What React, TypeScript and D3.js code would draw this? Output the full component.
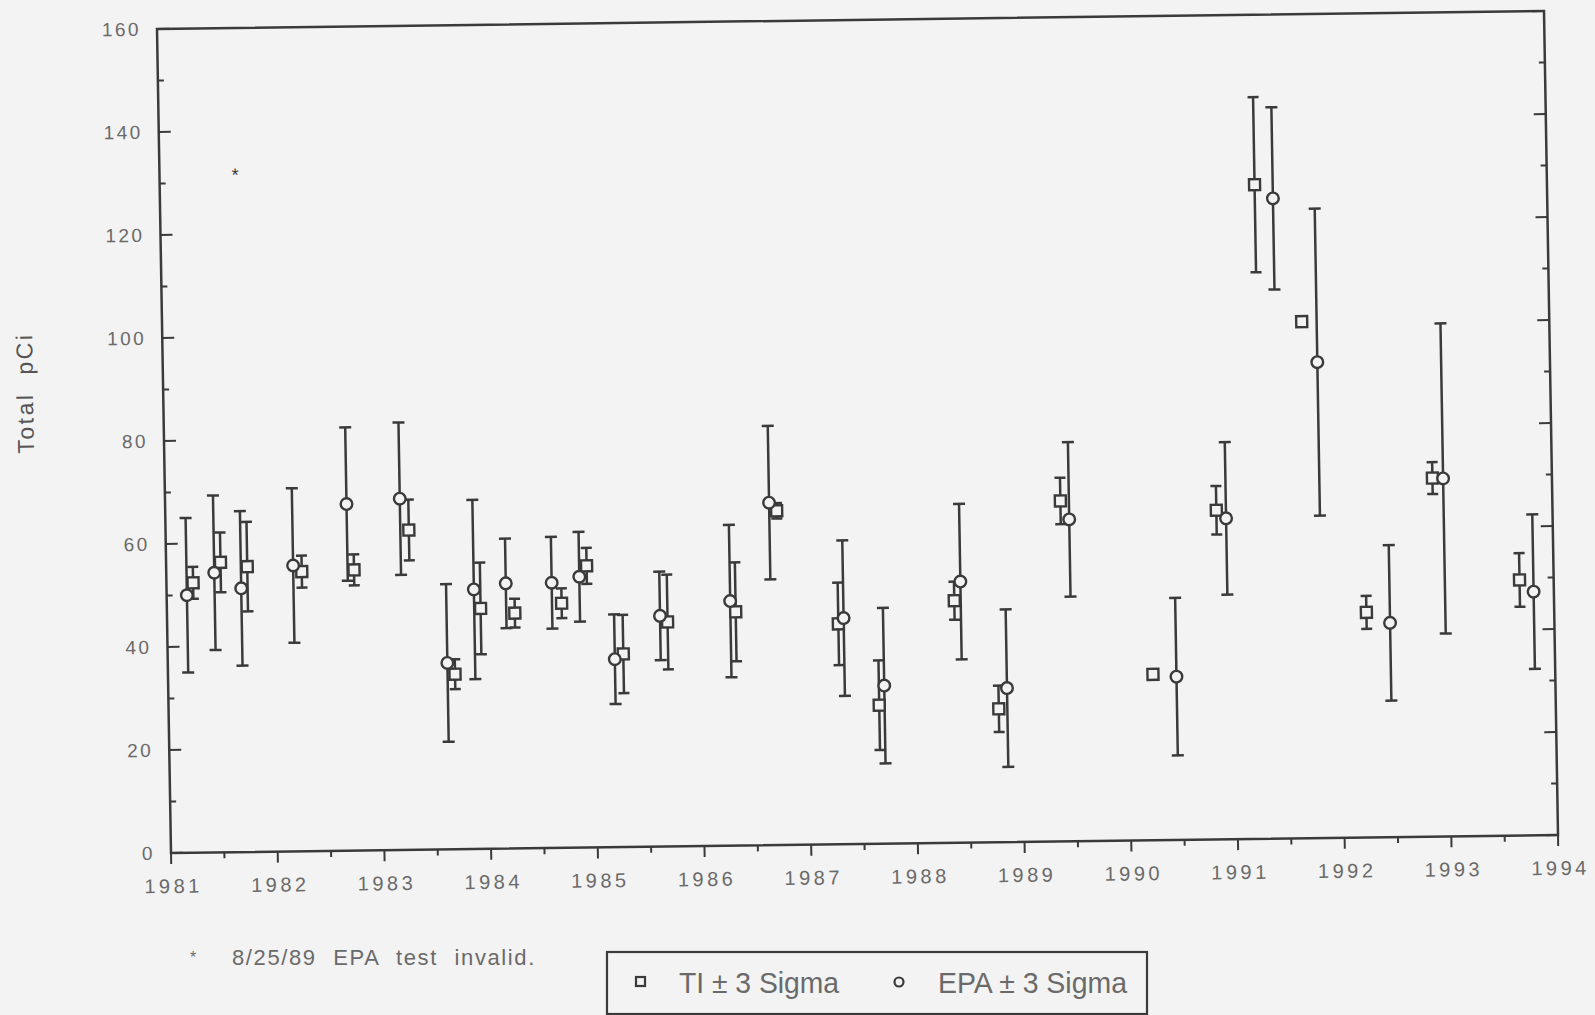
import * as d3 from 'd3';

const WIDTH = 1595, HEIGHT = 1015;
const PW = 1387, PH = 824;

// TI measurements (year, value, 3 sigma)
const tiYear = [1981.25, 1981.51, 1981.76, 1982.27, 1982.76, 1983.28, 1983.69, 1983.94, 1984.26, 1984.70, 1984.94, 1985.27, 1985.69, 1986.33, 1986.73, 1987.29, 1987.66, 1988.38, 1988.78, 1989.39, 1990.23, 1990.85, 1991.26, 1991.68, 1992.24, 1992.88, 1993.68];
const tiValue = [52.4, 56.3, 55.4, 54.3, 54.5, 62.1, 34.0, 46.7, 45.7, 47.5, 54.7, 37.5, 43.6, 45.4, 64.9, 42.8, 26.9, 47.0, 25.9, 66.1, 32.2, 63.9, 127.0, 100.3, 43.7, 69.6, 49.6];
const tiSigma = [3.1, 5.8, 8.7, 3.1, 3.0, 5.9, 2.9, 8.9, 2.8, 2.9, 3.5, 7.6, 9.2, 9.6, 1.5, 8.0, 8.7, 3.7, 4.5, 4.5, 1.0, 4.7, 17.0, 0, 3.2, 3.1, 5.2];

// EPA measurements (year, value, 3 sigma)
const epaYear = [1981.19, 1981.45, 1981.70, 1982.19, 1982.70, 1983.20, 1983.62, 1983.88, 1984.18, 1984.61, 1984.87, 1985.19, 1985.62, 1986.28, 1986.66, 1987.34, 1987.71, 1988.44, 1988.86, 1989.47, 1990.45, 1990.94, 1991.43, 1991.82, 1992.46, 1992.98, 1993.81];
const epaValue = [50.0, 54.3, 51.2, 55.5, 67.3, 68.2, 36.2, 50.4, 51.5, 51.5, 52.6, 36.5, 44.8, 47.5, 66.5, 43.9, 30.7, 50.7, 29.9, 62.5, 31.7, 62.3, 124.3, 92.4, 41.6, 69.5, 47.3];
const epaSigma = [15.0, 15.0, 15.0, 15.0, 14.9, 14.8, 15.3, 17.4, 8.7, 8.9, 8.7, 8.7, 8.6, 14.8, 14.9, 15.1, 15.1, 15.1, 15.3, 15.0, 15.3, 14.8, 17.7, 29.8, 15.1, 30.1, 15.0];

const yearLabels = ['1981', '1982', '1983', '1984', '1985', '1986', '1987', '1988', '1989', '1990', '1991', '1992', '1993', '1994'];
const valueLabels = ['0', '20', '40', '60', '80', '100', '120', '140', '160'];

const INK = '#3a3a3a';
const TEXT = '#6a6a6a';
const BG = '#f3f3f3';
const SANS = 'Liberation Sans, Arial, sans-serif';
const NARROW = 'Liberation Sans Narrow, Arial Narrow, sans-serif';

const x = d3.scaleLinear().domain([1981, 1994]).range([0, PW]);
const y = d3.scaleLinear().domain([0, 160]).range([PH, 0]);

const tiPoints = tiYear.map((t, i) => ({ t, v: tiValue[i], s: tiSigma[i] }));
const epaPoints = epaYear.map((t, i) => ({ t, v: epaValue[i], s: epaSigma[i] }));

const ErrorBar = ({ d, cap }) => {
    if (!d.s) return null;
    const cx = x(d.t);
    const y0 = y(d.v - d.s), y1 = y(d.v + d.s);
    return (
        <g stroke={INK} strokeWidth={2.5}>
            <line x1={cx} x2={cx} y1={y0} y2={y1} />
            <line x1={cx - cap} x2={cx + cap} y1={y0} y2={y0} />
            <line x1={cx - cap} x2={cx + cap} y1={y1} y2={y1} />
        </g>
    );
};

const App = () => {
    const halfYears = d3.range(1981, 1994.01, 0.5);
    const tens = y.ticks(16);
    return (
        <svg width={WIDTH} height={HEIGHT} style={{ position: 'absolute', left: 0, top: 0, display: 'block' }}>
            <rect width={WIDTH} height={HEIGHT} fill={BG} />
            <text transform="translate(33,393) rotate(-90.9)" textAnchor="middle" fontFamily={SANS}
                fontSize={23} letterSpacing={2.5} wordSpacing={9} fill="#555">Total pCi</text>

            <g transform="matrix(1,-0.013,0.017,1,157,29)">
                <rect x={0} y={0} width={PW} height={PH} fill="none" stroke={INK} strokeWidth={2.5} />

                {tens.map(v => (
                    <g key={'yt' + v} stroke={INK} strokeWidth={2}>
                        <line x1={0} x2={v % 20 === 0 ? 12 : 6} y1={y(v)} y2={y(v)} />
                        <line x1={PW} x2={PW - (v % 20 === 0 ? 12 : 6)} y1={y(v)} y2={y(v)} />
                    </g>
                ))}
                {halfYears.map(t => (
                    <line key={'xt' + t} x1={x(t)} x2={x(t)} y1={PH} y2={PH + (t % 1 === 0 ? 11 : 6)} stroke={INK} strokeWidth={2} />
                ))}

                {valueLabels.map((l, i) => (
                    <text key={'yl' + l} x={-16} y={y(i * 20)} dy="0.35em" textAnchor="end" fontFamily={SANS}
                        fontSize={19} letterSpacing={2.5} fill={TEXT}>{l}</text>
                ))}
                {yearLabels.map((l, i) => (
                    <text key={'xl' + l} x={x(1981 + i) + 2} y={PH + 40} textAnchor="middle" fontFamily={SANS}
                        fontSize={20} letterSpacing={3.5} fill={TEXT}>{l}</text>
                ))}

                {epaPoints.map((d, i) => <ErrorBar key={'eb' + i} d={d} cap={6} />)}
                {tiPoints.map((d, i) => <ErrorBar key={'tb' + i} d={d} cap={5.5} />)}

                {tiPoints.map((d, i) => (
                    <rect key={'tm' + i} x={x(d.t) - 5.5} y={y(d.v) - 5.5} width={11} height={11} fill={BG} stroke={INK} strokeWidth={2.4} />
                ))}
                {epaPoints.map((d, i) => (
                    <circle key={'em' + i} cx={x(d.t)} cy={y(d.v)} r={5.8} fill={BG} stroke={INK} strokeWidth={2.4} />
                ))}

                <text x={x(1981.71)} y={y(131.5)} textAnchor="middle" dy="0.35em" fontSize={18} fill={INK}
                    fontFamily={SANS}>*</text>
            </g>

            <text x={190} y={963} fontSize={16} fill={TEXT} fontFamily={SANS}>*</text>
            <text x={232} y={965} fontSize={22} fill={TEXT} fontFamily={SANS} letterSpacing={1.6} wordSpacing={9}>
                8/25/89 EPA test invalid.
            </text>

            <rect x={607} y={952} width={540} height={62} fill="none" stroke={INK} strokeWidth={2.2} />
            <rect x={636} y={977} width={9} height={9} fill="none" stroke={INK} strokeWidth={2.2} />
            <text x={679} y={993} fontSize={30} fill={TEXT} textLength={160} lengthAdjust="spacingAndGlyphs"
                fontFamily={NARROW}>TI ± 3 Sigma</text>
            <circle cx={899} cy={982} r={4.5} fill="none" stroke={INK} strokeWidth={2.2} />
            <text x={938} y={993} fontSize={30} fill={TEXT} textLength={189} lengthAdjust="spacingAndGlyphs"
                fontFamily={NARROW}>EPA ± 3 Sigma</text>
        </svg>
    );
};

export default App;
